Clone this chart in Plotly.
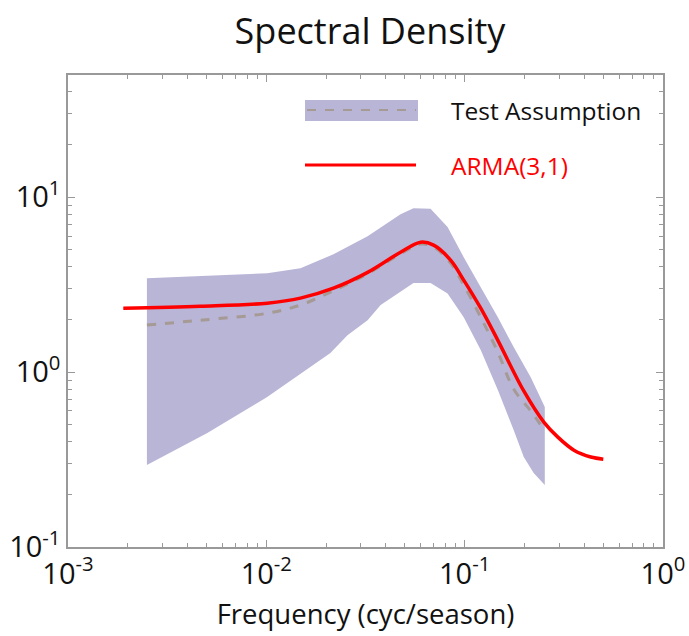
import plotly.graph_objects as go

# ARMA(3,1) spectral density (red line)
arma_freq = [0.0019, 0.00465, 0.0101, 0.01486, 0.0218, 0.0324, 0.0475, 0.060, 0.0697,
             0.0849, 0.0989, 0.1205, 0.147, 0.1986, 0.2506, 0.295, 0.3556, 0.4326, 0.5]
arma_val = [2.32, 2.38, 2.48, 2.65, 3.02, 3.72, 4.85, 5.53, 5.32,
            4.37, 3.36, 2.32, 1.52, 0.78, 0.518, 0.425, 0.358, 0.327, 0.318]

# Test assumption median (dashed)
test_freq = [0.0025, 0.00465, 0.0101, 0.0149, 0.0218, 0.0324, 0.0475, 0.060, 0.0697,
             0.0849, 0.0989, 0.1205, 0.147, 0.1766, 0.2153, 0.248]
test_val = [1.86, 1.98, 2.17, 2.42, 2.92, 3.65, 4.75, 5.4, 5.2,
            4.2, 3.15, 2.06, 1.3, 0.8, 0.6, 0.479]

# Test assumption band
upper_freq = [0.0025, 0.0101, 0.01486, 0.0218, 0.0324, 0.0475, 0.0552, 0.0673,
              0.082, 0.0989, 0.1205, 0.147, 0.1766, 0.2153, 0.2535]
upper_val = [3.44, 3.68, 3.93, 4.72, 5.98, 8.0, 8.65, 8.6,
             6.75, 4.54, 3.06, 2.06, 1.39, 0.935, 0.631]
lower_freq = [0.0025, 0.00504, 0.0101, 0.02104, 0.02564, 0.0324, 0.0377, 0.0459, 0.0552,
              0.0673, 0.082, 0.0989, 0.1205, 0.147, 0.1766, 0.1986, 0.2228, 0.2535]
lower_val = [0.294, 0.448, 0.72, 1.285, 1.626, 1.98, 2.42, 2.82, 3.23,
             3.23, 2.82, 2.06, 1.34, 0.789, 0.467, 0.327, 0.265, 0.226]

x_major = [0.001, 0.01, 0.1, 1]
x_major_text = ["10<sup>-3</sup>", "10<sup>-2</sup>", "10<sup>-1</sup>", "10<sup>0</sup>"]
y_major = [0.1, 1, 10]
y_major_text = ["10<sup>-1</sup>", "10<sup>0</sup>", "10<sup>1</sup>"]
x_minor = [m * d for d in (0.001, 0.01, 0.1) for m in range(2, 10)]
y_minor = [m * d for d in (0.1, 1) for m in range(2, 10)] + [20, 30, 40]

BAND = "#b9b5d7"
DASH = "#a59a94"
RED = "#ff0000"
AXC = "#999999"
TXT = "#111111"
FONT = "Open Sans"

fig = go.Figure()
fig.add_trace(go.Scatter(
    x=upper_freq + lower_freq[::-1], y=upper_val + lower_val[::-1],
    fill="toself", fillcolor=BAND, line=dict(width=0, color=BAND),
    mode="lines", hoverinfo="skip", showlegend=False))
fig.add_trace(go.Scatter(
    x=test_freq, y=test_val, mode="lines",
    line=dict(color=DASH, width=3, dash="dash", shape="spline"), showlegend=False))
fig.add_trace(go.Scatter(
    x=arma_freq, y=arma_val, mode="lines",
    line=dict(color=RED, width=3.5, shape="spline"), showlegend=False))

axis_common = dict(
    type="log", showgrid=False, zeroline=False, automargin=False,
    showline=True, linecolor=AXC, linewidth=1.5, mirror="allticks",
    ticks="inside", ticklen=7, tickcolor=AXC, tickwidth=1,
    tickfont=dict(family=FONT, size=29, color=TXT),
)

fig.update_xaxes(range=[-3, 0], tickmode="array", tickvals=x_major, ticktext=x_major_text,
                 minor=dict(ticks="inside", ticklen=4, tickcolor=AXC, tickmode="array",
                            tickvals=x_minor, showgrid=False),
                 **axis_common,
                 title=dict(text="Frequency (cyc/season)",
                            font=dict(family=FONT, size=27.5, color=TXT), standoff=14))
fig.update_yaxes(range=[-1, 1.699], tickmode="array", tickvals=y_major, ticktext=y_major_text,
                 minor=dict(ticks="inside", ticklen=4, tickcolor=AXC, tickmode="array",
                            tickvals=y_minor, showgrid=False),
                 **axis_common)

# manual legend (paper coordinates)
fig.add_shape(type="rect", xref="paper", yref="paper",
              x0=(305 - 68) / 595, x1=(418 - 68) / 595,
              y0=(547 - 121) / 472, y1=(547 - 100) / 472,
              fillcolor=BAND, line=dict(width=0))
fig.add_shape(type="line", xref="paper", yref="paper",
              x0=(307 - 68) / 595, x1=(416 - 68) / 595,
              y0=(547 - 110) / 472, y1=(547 - 110) / 472,
              line=dict(color=DASH, width=2, dash="dash"))
fig.add_shape(type="line", xref="paper", yref="paper",
              x0=(305 - 68) / 595, x1=(416 - 68) / 595,
              y0=(547 - 165) / 472, y1=(547 - 165) / 472,
              line=dict(color=RED, width=3))
fig.add_annotation(text="Test Assumption", xref="paper", yref="paper",
                   x=(449 - 68) / 595, y=(547 - 110) / 472, xanchor="left", yanchor="middle",
                   showarrow=False, font=dict(family=FONT, size=24.5, color=TXT))
fig.add_annotation(text="ARMA(3,1)", xref="paper", yref="paper",
                   x=(449 - 68) / 595, y=(547 - 165) / 472, xanchor="left", yanchor="middle",
                   showarrow=False, font=dict(family=FONT, size=24.5, color=RED))

fig.update_layout(
    width=689, height=636,
    margin=dict(l=68, r=26, t=75, b=89),
    paper_bgcolor="white", plot_bgcolor="white",
    title=dict(text="Spectral Density", x=0.537, xanchor="center", y=0.95, yanchor="middle",
               font=dict(family=FONT, size=36, color=TXT)),
    showlegend=False,
)

fig.write_html("out.html")
